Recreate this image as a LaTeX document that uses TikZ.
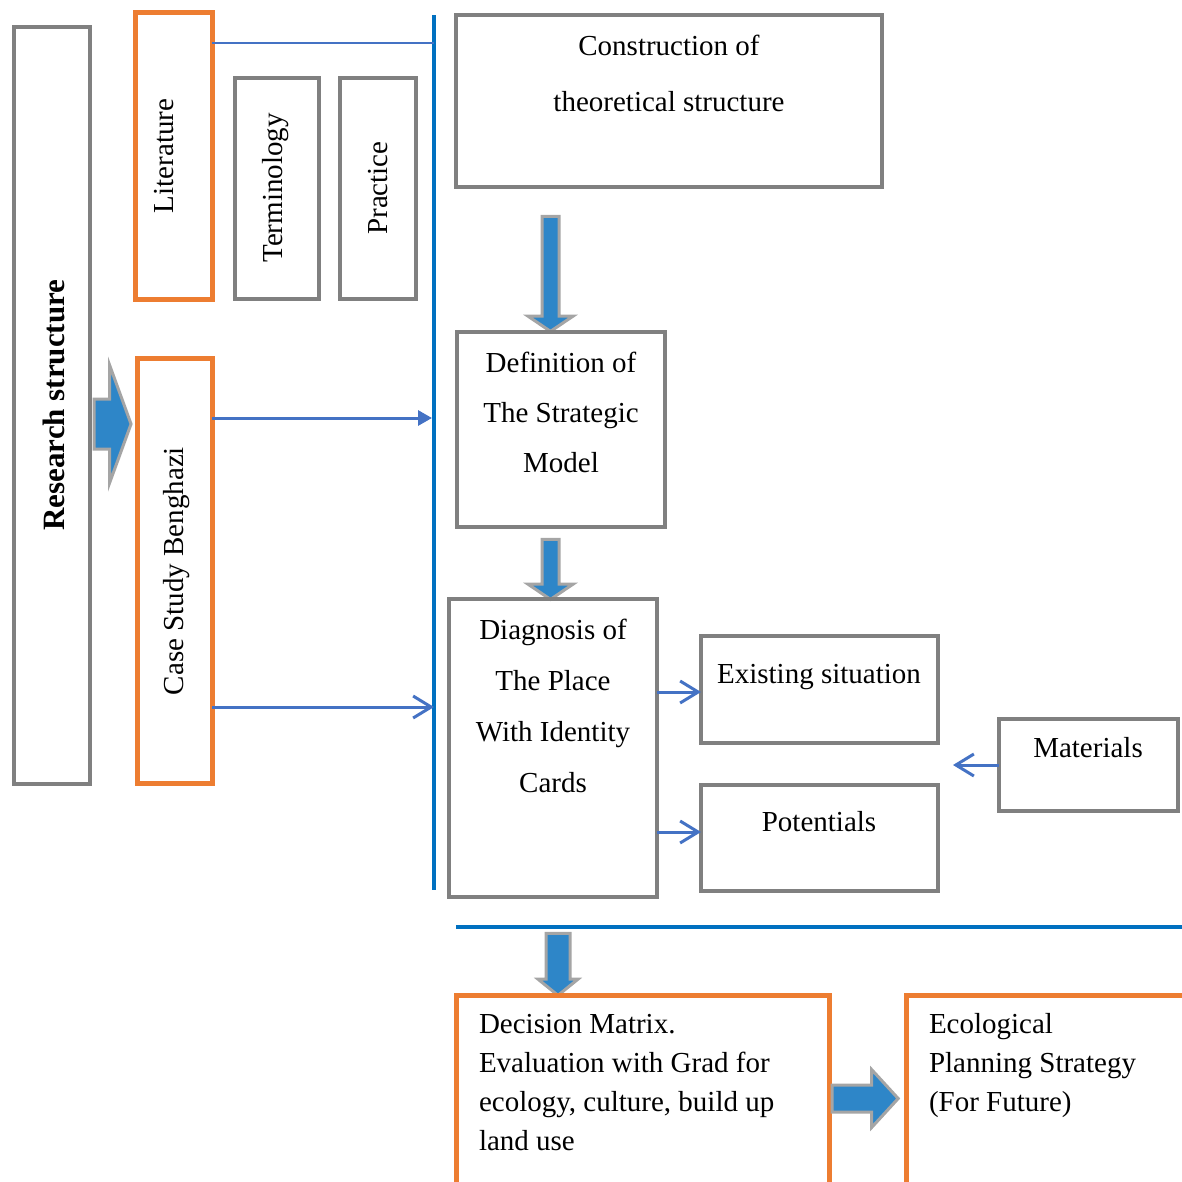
\documentclass[tikz,border=0pt]{standalone}
\usepackage{fontspec}
\setmainfont{Liberation Serif}
\usetikzlibrary{shapes.arrows,arrows.meta}
\definecolor{boxgray}{RGB}{128,128,128}
\definecolor{boxorange}{RGB}{237,125,49}
\definecolor{rulebl}{RGB}{0,112,192}
\definecolor{connbl}{RGB}{68,114,196}
\definecolor{fatbl}{RGB}{46,134,200}
\definecolor{fatgray}{RGB}{165,165,165}

\begin{document}
\begin{tikzpicture}[x=1pt,y=-1pt,
		every node/.style={inner sep=0pt, outer sep=0pt},
		graybox/.style={draw=boxgray, line width=4pt, rectangle},
		orangebox/.style={draw=boxorange, line width=5pt, rectangle},
		txt/.style={font=\fontsize{29}{35}\selectfont},
		vtxt/.style={txt, rotate=90},
		conn/.style={draw=connbl, line width=3pt},
		openarr/.style={-{Straight Barb[length=18pt, width=22pt]}},
		bluerule/.style={draw=rulebl, line width=4pt},
		fatarrow/.style={single arrow, draw=fatgray, fill=fatbl, line width=3pt, single arrow head indent=0pt}]
	\useasboundingbox (0,0) rectangle (1182,1181);
	\clip (0,0) rectangle (1182,1181);

	\node[graybox, minimum width=76, minimum height=757] (research) at (52,405.5) {};
	\node[vtxt, font=\bfseries\fontsize{31}{35}\selectfont] (researchtxt) at (54,405) {Research structure};
	\node[orangebox, minimum width=77, minimum height=287] (lit) at (173.5,155.5) {};
	\node[vtxt] (littxt) at (164,156) {Literature};
	\node[graybox, minimum width=84.5, minimum height=221] (term) at (276.75,188.5) {};
	\node[vtxt] (termtxt) at (276,188) {Terminology};
	\node[graybox, minimum width=76.5, minimum height=221] (prac) at (377.75,188.5) {};
	\node[vtxt] (practxt) at (378,188) {Practice};
	\node[orangebox, minimum width=75, minimum height=425] (case) at (174.5,570.5) {};
	\node[vtxt] (casetxt) at (177,571) {Case Study Benghazi};
	\node[fatarrow, minimum height=37, single arrow head extend=34, single arrow tip angle=140] (resarrow) at (108,424) {\rule{0pt}{47pt}};

	\coordinate (vtop) at (434,15);
	\coordinate (vbot) at (434,890);
	\draw[bluerule] (vtop) -- (vbot);
	\coordinate (litout) at ([yshift=-31pt]lit.north east);
	\draw[connbl, line width=1.3pt] (litout) -- (litout -| vtop);
	\coordinate (caseA) at ([yshift=-60pt]case.north east);
	\coordinate (caseB) at ([yshift=-349pt]case.north east);
	\draw[conn, -{Triangle[length=14pt, width=15pt]}, shorten >=2pt] (caseA) -- (caseA -| vtop);
	\draw[conn, openarr] (caseB) -- (caseB -| vtop);

	\node[graybox, minimum width=426, minimum height=172] (constr) at (669,101) {};
	\node[anchor=base, align=center, font=\fontsize{29}{56}\selectfont] (constrtxt) at (669,111) {Construction of\\theoretical structure};
	\node[fatarrow, rotate=-90, minimum height=115, single arrow head extend=14, single arrow tip angle=112] (down1) at (550.5,271) {\rule{0pt}{14pt}};
	\node[graybox, minimum width=208, minimum height=195] (defn) at (561,429.5) {};
	\node[anchor=base, align=center, font=\fontsize{29}{50}\selectfont] (defntxt) at (561,472) {Definition of\\The Strategic\\Model};
	\node[fatarrow, rotate=-90, minimum height=60, single arrow head extend=14, single arrow tip angle=112] (down2) at (550.5,566.5) {\rule{0pt}{14pt}};
	\node[graybox, minimum width=208, minimum height=298] (diag) at (553,748) {};
	\node[anchor=base, align=center, font=\fontsize{29}{51}\selectfont] (diagtxt) at (553,792) {Diagnosis of\\The Place\\With Identity\\Cards};

	\node[graybox, minimum width=237, minimum height=107] (exist) at (819.5,689.5) {};
	\node[txt, anchor=base] (existtxt) at (819,683) {Existing situation};
	\node[graybox, minimum width=237, minimum height=106] (poten) at (819.5,838) {};
	\node[txt, anchor=base] (potentxt) at (819,831) {Potentials};
	\node[graybox, minimum width=179, minimum height=92] (mater) at (1088.5,765) {};
	\node[txt, anchor=base] (matertxt) at (1088,757) {Materials};
	\coordinate (toexist) at ([yshift=-56pt]exist.north west);
	\coordinate (topoten) at ([yshift=-47pt]poten.north west);
	\coordinate (materend) at ([xshift=-46pt]mater.west);
	\draw[conn, openarr] (toexist -| diag.east) -- (toexist);
	\draw[conn, openarr] (topoten -| diag.east) -- (topoten);
	\draw[conn, openarr] (mater.west) -- (materend);

	\coordinate (hleft) at (456,927);
	\coordinate (hright) at (1182,927);
	\draw[bluerule, line width=4.5pt] (hleft) -- (hright);
	\node[fatarrow, rotate=-90, minimum height=62, single arrow head extend=8, single arrow tip angle=102] (down3) at (558,959.5) {\rule{0pt}{21pt}};
	\node[orangebox, minimum width=373, minimum height=210] (decis) at (642.5,1100) {};
	\node[anchor=base west, align=left, font=\fontsize{29}{39}\selectfont] (decistxt) at (479,1150) {Decision Matrix.\\Evaluation with Grad for\\ecology, culture, build up\\land use};
	\node[fatarrow, minimum height=66, single arrow head extend=15.5, single arrow tip angle=95] (rightarr) at (859,1098.5) {\rule{0pt}{24pt}};
	\node[orangebox, minimum width=294, minimum height=210] (ecol) at (1053,1100) {};
	\node[anchor=base west, align=left, font=\fontsize{29}{39}\selectfont] (ecoltxt) at (929,1111) {Ecological\\Planning Strategy\\(For Future)};
\end{tikzpicture}
\end{document}
